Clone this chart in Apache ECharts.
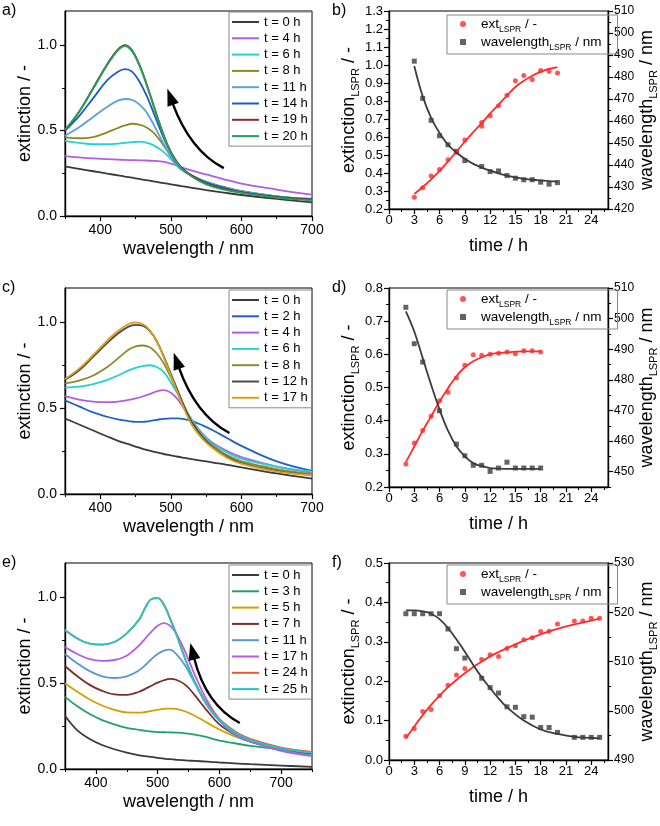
<!DOCTYPE html>
<html><head><meta charset="utf-8">
<script src="https://cdn.jsdelivr.net/npm/echarts@6/dist/echarts.min.js"></script>
<style>html,body{margin:0;padding:0;background:#fff}#c{width:660px;height:826px}</style>
</head><body><div id="c"></div>
<script>
// ---------------- DATA ----------------
// panel a: spectra
const aWl = [350,370,390,410,425,435,445,455,465,475,485,495,505,515,530,550,575,600,650,700];
const aLabels = ['t = 0 h','t = 4 h','t = 6 h','t = 8 h','t = 11 h','t = 14 h','t = 19 h','t = 20 h'];
const aT0  = [.29,.276,.262,.248,.238,.231,.224,.217,.21,.203,.196,.189,.182,.175,.165,.152,.137,.123,.10,.08];
const aT4  = [.35,.343,.337,.333,.33,.328,.327,.326,.325,.323,.32,.313,.30,.285,.265,.243,.215,.19,.155,.125];
const aT6  = [.44,.428,.42,.42,.424,.428,.432,.435,.43,.415,.39,.355,.31,.27,.235,.20,.17,.145,.115,.095];
const aT8  = [.46,.455,.462,.49,.515,.53,.54,.535,.52,.49,.44,.38,.32,.275,.235,.20,.17,.145,.115,.10];
const aT11 = [.47,.52,.58,.64,.675,.685,.68,.655,.61,.54,.46,.385,.32,.275,.235,.20,.168,.145,.115,.10];
const aT14 = [.50,.585,.69,.795,.845,.86,.845,.79,.71,.61,.505,.41,.335,.28,.235,.195,.165,.14,.112,.098];
const aT19 = [.50,.61,.75,.89,.975,1.0,.97,.89,.78,.655,.53,.42,.34,.285,.235,.19,.16,.138,.11,.095];
const aT20 = [.505,.61,.745,.885,.97,.995,.965,.885,.775,.65,.525,.415,.335,.28,.23,.185,.155,.135,.108,.092];

// panel c: spectra
const cWl = [350,370,390,410,425,440,450,460,470,480,490,500,510,520,530,545,560,580,600,650,700];
const cLabels = ['t = 0 h','t = 2 h','t = 4 h','t = 6 h','t = 8 h','t = 12 h','t = 17 h'];
const cT0  = [.44,.405,.37,.335,.31,.29,.276,.263,.252,.242,.233,.225,.217,.21,.203,.193,.183,.17,.155,.12,.09];
const cT2  = [.545,.51,.475,.45,.435,.425,.42,.42,.425,.432,.438,.44,.44,.435,.425,.40,.37,.325,.28,.19,.135];
const cT4  = [.57,.55,.538,.535,.538,.548,.557,.568,.582,.598,.605,.59,.55,.49,.43,.35,.295,.25,.215,.16,.125];
const cT6  = [.62,.625,.64,.665,.69,.72,.735,.745,.75,.74,.71,.65,.58,.50,.43,.345,.29,.24,.205,.16,.13];
const cT8  = [.645,.66,.69,.74,.79,.84,.86,.865,.855,.82,.76,.68,.59,.50,.42,.335,.28,.225,.19,.145,.115];
const cT12 = [.665,.72,.80,.88,.935,.975,.985,.98,.95,.89,.80,.70,.60,.50,.415,.33,.27,.215,.18,.135,.11];
const cT17 = [.67,.73,.81,.895,.95,.99,1.0,.99,.955,.89,.795,.69,.585,.485,.40,.32,.265,.21,.175,.13,.11];

// panel e: spectra
const eWl = [350,370,390,410,430,450,470,480,490,500,510,520,530,545,560,580,600,625,650,700,750];
const eLabels = ['t = 0 h','t = 3 h','t = 5 h','t = 7 h','t = 11 h','t = 17 h','t = 24 h','t = 25 h'];
const eT0  = [.31,.225,.175,.14,.115,.095,.08,.075,.07,.065,.06,.057,.054,.05,.047,.043,.038,.033,.028,.02,.012];
const eT3  = [.42,.365,.32,.285,.26,.24,.228,.222,.218,.215,.214,.213,.212,.208,.20,.185,.165,.15,.135,.115,.095];
const eT5  = [.50,.45,.405,.37,.345,.33,.328,.332,.338,.345,.35,.352,.35,.335,.31,.27,.23,.19,.16,.12,.095];
const eT7  = [.60,.54,.49,.455,.435,.432,.45,.467,.485,.503,.517,.525,.52,.49,.43,.34,.26,.20,.16,.115,.085];
const eT11 = [.67,.615,.57,.54,.53,.54,.575,.605,.64,.67,.69,.695,.67,.60,.50,.37,.28,.20,.16,.11,.08];
const eT17 = [.71,.67,.64,.63,.635,.66,.72,.76,.80,.835,.85,.835,.79,.68,.55,.40,.29,.21,.165,.105,.075];
const eT24 = [.81,.76,.73,.725,.74,.79,.87,.94,.99,.995,.96,.88,.79,.64,.51,.38,.29,.22,.175,.125,.10];
const eT25 = [.81,.76,.73,.725,.74,.79,.87,.94,.99,.995,.955,.875,.785,.635,.505,.375,.285,.215,.17,.12,.095];

// panel b: kinetics
const bExtT = [3,4,5,6,7,8,9,11,11,12,13,14,15,16,17,18,19,20];
const bExt  = [0.265,0.318,0.384,0.42,0.473,0.515,0.584,0.68,0.66,0.718,0.774,0.832,0.913,0.941,0.919,0.969,0.965,0.955];
const bWlT  = [3,4,5,6,7,8,9,11,12,13,14,15,16,17,18,19,20];
const bWl   = [487.2,470.3,460.3,453.3,449.2,446.2,442,439.3,437,437.3,435.2,434,433.3,433.3,432.2,431.3,432];
const bFitT = [3,4,5,6,7,8,9,10,11,12,13,14,15,16,17,18,19,20];
const bExtFit = [0.283,0.322,0.365,0.412,0.464,0.518,0.575,0.627,0.677,0.73,0.78,0.83,0.878,0.912,0.94,0.962,0.978,0.988];
const bWlFit  = [485,471.2,461.4,454.5,449.2,445.7,442.8,440.5,438.8,437.4,436.2,435.2,434.4,433.7,433.3,433,432.7,432.5];

// panel d: kinetics
const dExtT = [2,3,4,5,6,7,8,9,10,11,12,13,14,15,16,17,18];
const dExt  = [0.269,0.333,0.37,0.413,0.46,0.486,0.529,0.567,0.599,0.597,0.6,0.603,0.607,0.602,0.611,0.611,0.607];
const dWlT  = [2,3,4,6,8,9,10,11,12,13,14,15,16,17,18];
const dWl   = [503.7,491.8,485.8,469.9,459,455.2,452.1,452.1,450.1,451.2,453.1,451.2,451.2,451.2,451.2];
const dFitT = [2,3,4,5,6,7,8,9,10,11,12,13,14,15,16,17,18];
const dExtFit = [0.275,0.322,0.37,0.413,0.458,0.498,0.534,0.561,0.579,0.591,0.6,0.604,0.606,0.608,0.609,0.609,0.609];
const dWlFit  = [502.4,495.8,487.1,478.4,470.3,463.4,458.3,455,452.8,451.8,451.2,451,450.9,450.9,450.9,450.9,450.9];

// panel f: kinetics
const fExtT = [2,3,4,5,6,7,8,9,11,12,13,14,15,16,17,18,19,20,22,23,24,25];
const fExt  = [0.06,0.08,0.123,0.128,0.163,0.19,0.216,0.232,0.255,0.267,0.263,0.283,0.29,0.305,0.31,0.326,0.327,0.345,0.353,0.353,0.36,0.36];
const fWlT  = [2,3,4,5,6,7,8,9,11,12,13,14,15,16,17,18,19,20,22,23,24,25];
const fWl   = [519.7,519.7,519.7,519.7,519.7,516.6,512.6,510.7,506.6,504.7,503.6,500.8,500.7,498.8,498.7,496.6,496.6,495.6,494.6,494.6,494.6,494.6];
const fFitT = [2,3,4,5,6,7,8,9,10,11,12,13,14,16,18,20,22,24,25];
const fExtFit = [0.055,0.085,0.114,0.14,0.163,0.185,0.203,0.22,0.236,0.25,0.263,0.274,0.284,0.303,0.319,0.333,0.344,0.354,0.358];
const fWlFit  = [520.4,520.4,520.2,519.7,518.6,516.8,514.5,512,509.3,506.8,504.6,502.5,500.7,498,496.2,495.3,494.7,494.5,494.4];

// tick labels
const specXTicks = [400,500,600,700];
const aXMinor = [350,450,550,650];
const eXMinor = [350,450,550,650,750];
const specYTicks = [0,0.5,1.0];
const specYMinor = [0.25,0.75];
const timeTicks = [0,3,6,9,12,15,18,21,24];
const timeMinor = [1.5,4.5,7.5,10.5,13.5,16.5,19.5,22.5,25.5];
const bYTicks = [0.2,0.3,0.4,0.5,0.6,0.7,0.8,0.9,1.0,1.1,1.2,1.3];
const bYMinor = [0.25,0.35,0.45,0.55,0.65,0.75,0.85,0.95,1.05,1.15,1.25];
const bRTicks = [420,430,440,450,460,470,480,490,500,510];
const bRMinor = [425,435,445,455,465,475,485,495,505];
const dYTicks = [0.2,0.3,0.4,0.5,0.6,0.7,0.8];
const dYMinor = [0.25,0.35,0.45,0.55,0.65,0.75];
const dRTicks = [450,460,470,480,490,500,510];
const dRMinor = [445,455,465,475,485,495,505];
const fYTicks = [0.0,0.1,0.2,0.3,0.4,0.5];
const fYMinor = [0.05,0.15,0.25,0.35,0.45];
const fRTicks = [490,500,510,520,530];
const fRMinor = [495,505,515,525];

// ---------------- CHART ----------------
const FONT = "'Liberation Sans', Arial, sans-serif";
const RED = '#ff2b2b', GRAY = '#3c3c3c';
const chart = echarts.init(document.getElementById('c'), null, {renderer:'canvas', width:660, height:826});

const grid = [
  {left:65, top:11, width:247, height:205},
  {left:389, top:11, width:225, height:198},
  {left:65, top:288, width:247, height:206},
  {left:389, top:288, width:225, height:199},
  {left:65, top:563, width:247, height:206},
  {left:389, top:563, width:225, height:197}
].map(g => Object.assign(g, {show:true, borderColor:'#000', borderWidth:1, backgroundColor:'transparent'}));

const xAxis = [], yAxis = [], series = [], legend = [];
const nameStyle = {fontSize:18, fontFamily:FONT, color:'#000'};
const subRich = {
  m:{fontSize:18, lineHeight:24, fontFamily:FONT, color:'#000'},
  s:{fontSize:11, lineHeight:11, verticalAlign:'bottom', fontFamily:FONT, color:'#000'}
};

function axisPair(list, gi, min, max, majors, minors, o) {
  const base = {type:'value', gridIndex:gi, min:min, max:max, position:o.position, splitLine:{show:false}, scale:true};
  list.push(Object.assign({}, base, {
    axisLine:{show:true, onZero:false, lineStyle:{color:'#000', width:1.4}},
    axisTick:{show:true, customValues:majors, length:5, inside:!!o.inside, lineStyle:{color:'#000', width:1.2}},
    axisLabel:{show:true, customValues:majors, formatter:o.fmt, fontSize:o.fs, color:'#000', fontFamily:FONT, margin:o.margin},
    name:o.name, nameLocation:'middle', nameGap:o.nameGap, nameRotate:o.nameRotate, nameTextStyle:o.nameStyle
  }));
  const idx = list.length - 1;
  list.push(Object.assign({}, base, {
    axisLine:{show:false, onZero:false},
    axisTick:{show:true, customValues:minors, length:3, inside:!!o.inside, lineStyle:{color:'#000', width:1}},
    axisLabel:{show:false}
  }));
  return idx;
}

const f1 = v => Number(v).toFixed(1);
const f0 = v => String(Math.round(v));
const strip = n => n.replace(/\u200b/g, '');

function spectrumPanel(gi, wl, xMin, xMax, xMinor, labels, curves, colors, legendTop) {
  const xi = axisPair(xAxis, gi, xMin, xMax, specXTicks, xMinor, {position:'bottom', fmt:f0, fs:14, margin:7,
    name:'wavelength / nm', nameGap:24, nameStyle:nameStyle});
  const yi = axisPair(yAxis, gi, 0, 1.2, specYTicks, specYMinor, {position:'left', fmt:f1, fs:14, margin:8,
    name:'extinction / -', nameGap:30, nameRotate:90, nameStyle:nameStyle});
  const names = [];
  curves.forEach((ys, k) => {
    const nm = labels[k] + '\u200b'.repeat(gi);
    names.push(nm);
    series.push({type:'line', name:nm, xAxisIndex:xi, yAxisIndex:yi, showSymbol:false, symbol:'none',
      smooth:0.4, lineStyle:{width:1.8, color:colors[k]}, itemStyle:{color:colors[k]},
      data: wl.map((w, i) => [w, ys[i]])});
  });
  legend.push({data:names, orient:'vertical', left:229, top:legendTop, padding:[3,4,3,3],
    icon:'rect', itemWidth:27, itemHeight:2, itemGap:2.3, borderColor:'#888', borderWidth:1, borderRadius:0,
    textStyle:{fontSize:13, lineHeight:14, fontFamily:FONT, color:'#000'}, formatter:strip, selectedMode:false});
  return {xi, yi};
}

function kineticsPanel(gi, yMin, yMax, yT, yM, rMin, rMax, rT, rM, extT, ext, wlT, wl, fitT, extFit, wlFit, legendTop) {
  const xi = axisPair(xAxis, gi, 0, 26, timeTicks, timeMinor, {position:'bottom', fmt:f0, fs:13, margin:5,
    name:'time / h', nameGap:28, nameStyle:nameStyle});
  const yi = axisPair(yAxis, gi, yMin, yMax, yT, yM, {position:'left', fmt:f1, fs:13, margin:6,
    name:'{m|extinction}{s|LSPR}{m| / -}', nameGap:16, nameRotate:90, nameStyle:{rich:subRich}});
  const ri = axisPair(yAxis, gi, rMin, rMax, rT, rM, {position:'right', fmt:f0, fs:12, margin:6,
    name:'{m|wavelength}{s|LSPR}{m| / nm}', nameGap:25, nameRotate:90, nameStyle:{rich:subRich}});
  const sfx = '\u200b'.repeat(gi);
  const nExt = 'ext' + sfx, nWl = 'wl' + sfx;
  series.push({type:'line', xAxisIndex:xi, yAxisIndex:yi, showSymbol:false, symbol:'none', smooth:0.4,
    lineStyle:{color:RED, width:1.8}, data: fitT.map((t, i) => [t, extFit[i]])});
  series.push({type:'line', xAxisIndex:xi, yAxisIndex:ri, showSymbol:false, symbol:'none', smooth:0.4,
    lineStyle:{color:GRAY, width:1.8}, data: fitT.map((t, i) => [t, wlFit[i]])});
  series.push({type:'scatter', name:nExt, xAxisIndex:xi, yAxisIndex:yi, symbol:'circle', symbolSize:5,
    itemStyle:{color:RED}, data: extT.map((t, i) => [t, ext[i]])});
  series.push({type:'scatter', name:nWl, xAxisIndex:xi, yAxisIndex:ri, symbol:'rect', symbolSize:5,
    itemStyle:{color:GRAY}, data: wlT.map((t, i) => [t, wl[i]])});
  legend.push({data:[nExt, nWl], orient:'vertical', left:447, top:legendTop, padding:[2,16,2,13],
    itemWidth:6, itemHeight:6, itemGap:1, borderColor:'#888', borderWidth:1, borderRadius:0, selectedMode:false,
    formatter: n => strip(n) === 'ext' ? '{g| }{m|ext}{s|LSPR}{m| / -}' : '{g| }{m|wavelength}{s|LSPR}{m| / nm}',
    textStyle:{fontFamily:FONT, color:'#000', rich:{
      g:{width:10, fontSize:13.5, lineHeight:20},
      m:{fontSize:13.5, lineHeight:20, fontFamily:FONT, color:'#000'},
      s:{fontSize:8.5, lineHeight:8, verticalAlign:'bottom', fontFamily:FONT, color:'#000'}}}});
}

const A = spectrumPanel(0, aWl, 350, 700, aXMinor, aLabels, [aT0,aT4,aT6,aT8,aT11,aT14,aT19,aT20],
  ['#3a3a3a','#b35ce6','#22d3d3','#8c8a1e','#5c9fe0','#1a5fc0','#8c2c2c','#1fa35c'], 12);
kineticsPanel(1, 0.2, 1.3, bYTicks, bYMinor, 420, 510, bRTicks, bRMinor, bExtT, bExt, bWlT, bWl, bFitT, bExtFit, bWlFit, 15);
const C = spectrumPanel(2, cWl, 350, 700, aXMinor, cLabels, [cT0,cT2,cT4,cT6,cT8,cT12,cT17],
  ['#3a3a3a','#2060c8','#b35ce6','#22d3d3','#8c8a30','#4a4a4a','#d9a018'], 290);
kineticsPanel(3, 0.2, 0.8, dYTicks, dYMinor, 445, 510, dRTicks, dRMinor, dExtT, dExt, dWlT, dWl, dFitT, dExtFit, dWlFit, 290);
const E = spectrumPanel(4, eWl, 350, 750, eXMinor, eLabels, [eT0,eT3,eT5,eT7,eT11,eT17,eT24,eT25],
  ['#3a3a3a','#1fa36a','#d4a000','#7a2e2e','#5a96d6','#b35ce6','#ee5533','#22c8c8'], 565);
kineticsPanel(5, 0.0, 0.5, fYTicks, fYMinor, 490, 530, fRTicks, fRMinor, fExtT, fExt, fWlT, fWl, fFitT, fExtFit, fWlFit, 565);

const panelLabels = ['a)','b)','c)','d)','e)','f)'];
const labelPos = [[2,3],[332,3],[2,280],[332,280],[2,555],[332,555]];
const title = panelLabels.map((t, i) => ({text:t, left:labelPos[i][0], top:labelPos[i][1], padding:0,
  textStyle:{fontSize:16, fontWeight:'normal', fontFamily:FONT, color:'#000'}}));

chart.setOption({animation:false, backgroundColor:'#fff', title, grid, xAxis, yAxis, series, legend});

// curved arrows (annotation), defined in data coordinates: tail, control, tip
const arrows = [
  {ax:A, tail:[575,0.28], ctrl:[527,0.384], tip:[495,0.745]},
  {ax:C, tail:[583,0.355], ctrl:[535,0.46], tip:[504,0.823]},
  {ax:E, tail:[633,0.268], ctrl:[578,0.373], tip:[553,0.734]}
];
const graphic = [];
arrows.forEach(a => {
  const cv = p => chart.convertToPixel({xAxisIndex:a.ax.xi, yAxisIndex:a.ax.yi}, p);
  const p0 = cv(a.tail), pc = cv(a.ctrl), pt = cv(a.tip);
  let dx = pt[0]-pc[0], dy = pt[1]-pc[1]; const L = Math.hypot(dx, dy); dx /= L; dy /= L;
  const hl = 17, hw = 6;
  const b = [pt[0]-hl*dx, pt[1]-hl*dy];
  graphic.push({type:'bezierCurve', shape:{x1:p0[0], y1:p0[1], cpx1:pc[0], cpy1:pc[1], x2:b[0]+2*dx, y2:b[1]+2*dy},
    style:{stroke:'#000', lineWidth:2.4, fill:null}, z:100});
  graphic.push({type:'polygon', shape:{points:[pt, [b[0]-hw*dy, b[1]+hw*dx], [b[0]+hw*dy, b[1]-hw*dx]]},
    style:{fill:'#000'}, z:100});
});
chart.setOption({graphic});
</script></body></html>
